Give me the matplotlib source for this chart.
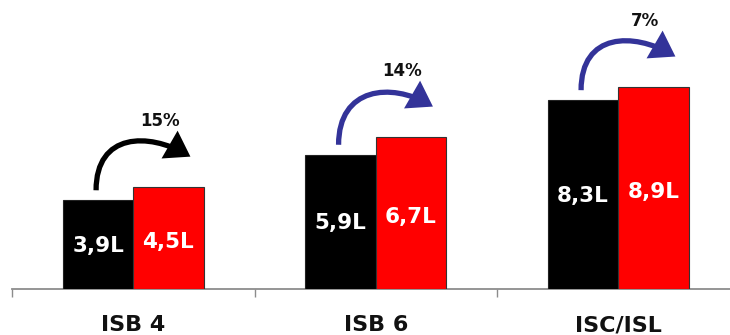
import matplotlib
matplotlib.use("Agg")
import matplotlib.pyplot as plt
from matplotlib.patches import FancyArrowPatch, ArrowStyle
from matplotlib.path import Path
import numpy as np

categories = ["ISB 4", "ISB 6", "ISC/ISL"]
before = [3.9, 5.9, 8.3]
after = [4.5, 6.7, 8.9]
before_labels = ["3,9L", "5,9L", "8,3L"]
after_labels = ["4,5L", "6,7L", "8,9L"]
pct_labels = ["15%", "14%", "7%"]
arrow_colors = ["#000000", "#333399", "#333399"]

plt.rcParams['font.family'] = ['DejaVu Sans']

W, H = 730, 335
fig = plt.figure(figsize=(W / 100, H / 100), dpi=100)
# axes: left at 12px, width ~727px (extends past right edge), bottom at baseline y=289
ax = fig.add_axes([12 / W, (H - 289) / H, 727.5 / W, 289 / H])
ax.set_xlim(-0.5, 2.5)
ax.set_ylim(0, 289 / 22.75)

# pixel -> data conversion factors (from the axes layout)
PX_X = 1 / 242.5
PX_Y = 1 / 22.75

x = list(range(len(categories)))
bw = 0.29
xb = [i - bw / 2 for i in x]
xa = [i + bw / 2 for i in x]
ax.bar(xb, before, width=bw, color="#000000", edgecolor="#222222", linewidth=0.8, zorder=3)
ax.bar(xa, after, width=bw, color="#FF0000", edgecolor="#333333", linewidth=0.8, zorder=3)

ang = np.deg2rad(30)
for i in x:
    ax.text(xb[i], before[i] / 2 - 0.07, before_labels[i], color="white", fontsize=15.5,
            fontweight="bold", ha="center", va="center", zorder=4)
    ax.text(xa[i], after[i] / 2 - 0.19, after_labels[i], color="white", fontsize=15.5,
            fontweight="bold", ha="center", va="center", zorder=4)
    ax.text(i + 0.11, after[i] + 2.9, pct_labels[i], color="#111111", fontsize=12,
            fontweight="bold", ha="center", va="center", zorder=4)
    # curved arrow from top of the "before" bar to above the "after" bar
    p0 = (xb[i] - 2 * PX_X, before[i] + 10 * PX_Y)
    p3 = (xa[i] + 22 * PX_X, after[i] + 30 * PX_Y)
    p1 = (p0[0], p0[1] + 58 * PX_Y)
    p2 = (p3[0] - 48 * np.cos(ang) * PX_X, p3[1] + 48 * np.sin(ang) * PX_Y)
    path = Path([p0, p1, p2, p3], [Path.MOVETO, Path.CURVE4, Path.CURVE4, Path.CURVE4])
    arr = FancyArrowPatch(path=path,
                          arrowstyle=ArrowStyle("-|>", head_length=12, head_width=8),
                          color=arrow_colors[i], linewidth=3.8, mutation_scale=1,
                          capstyle="butt", joinstyle="miter", zorder=5)
    ax.add_patch(arr)

for s in ["top", "right", "left"]:
    ax.spines[s].set_visible(False)
ax.spines["bottom"].set_color("#8c8c8c")
ax.spines["bottom"].set_linewidth(1.3)
ax.set_yticks([])
ax.set_xticks(x)
ax.set_xticklabels(categories, fontsize=16, fontweight="bold", color="#111111")
ax.tick_params(axis="x", which="major", length=0, pad=19)
ax.set_xticks([-0.5, 0.5, 1.5, 2.5], minor=True)
ax.tick_params(axis="x", which="minor", length=6, width=1.0, color="#8c8c8c", direction="out")

fig.savefig("out.png", dpi=100)
